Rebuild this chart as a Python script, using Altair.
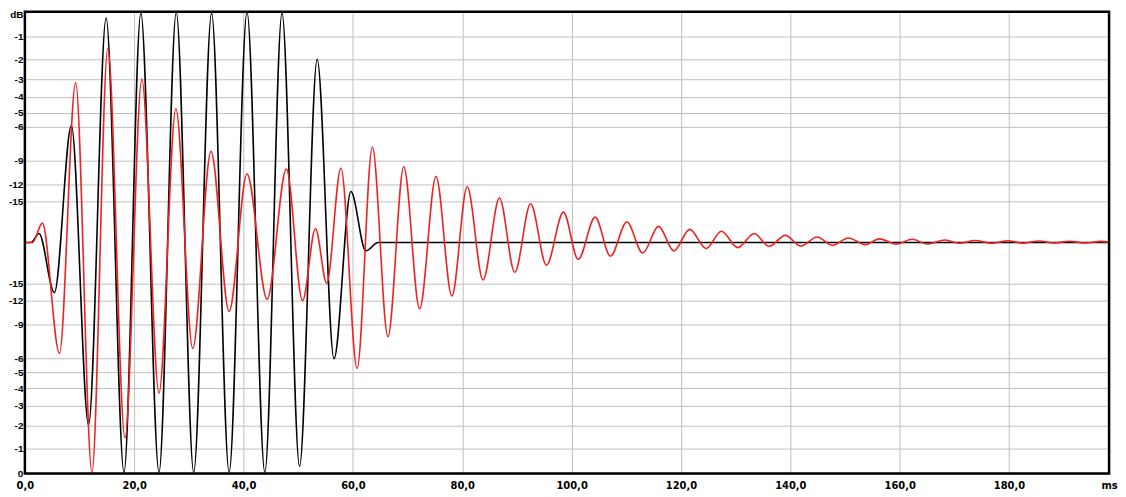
import altair as alt
import pandas as pd

# ---- data (time in ms, linear amplitude, full scale = 1) ----
black_t = [0, 1.1, 2.58, 5.4, 8.51, 11.65, 14.86, 18.13, 21.21, 24.53, 27.69, 30.88,
           34.15, 37.36, 40.63, 43.89, 47.03, 50.24, 53.46, 56.54, 59.63, 62.35, 64.6, 198.3]
black_a = [0, 0, 0.039, -0.217, 0.507, -0.790, 0.973, -0.995, 0.994, -0.995, 0.998, -0.995,
           0.994, -0.995, 0.998, -0.995, 0.994, -0.969, 0.794, -0.503, 0.221, -0.036, 0, 0]

red_t = [0, 1.4, 3.19, 6.33, 9.29, 12.27, 15.17, 18.31, 21.39, 24.53, 27.62, 30.70,
         34.04, 37.36, 40.63, 44.31, 47.83, 50.79, 53.15, 55.20, 57.81, 60.77, 63.55,
         66.4, 69.3, 72.2, 75.2, 78.1, 80.9, 83.8, 86.8, 89.6, 92.5, 95.4, 98.5, 101.2,
         104.3, 107.1, 110.1, 113.0, 115.9, 118.7, 121.6, 124.6, 127.4, 130.4, 133.4,
         136.1, 139.1, 141.9, 144.9, 147.7, 150.6, 153.7, 156.3, 159.4, 162.3, 165.0,
         168.3, 171.0, 173.8, 176.8, 179.8, 182.5, 185.5, 188.2, 191.0, 194.0, 196.7, 198.3]
red_a = [0, 0, 0.084, -0.480, 0.693, -0.995, 0.841, -0.846, 0.708, -0.652, 0.580, -0.459,
         0.395, -0.298, 0.297, -0.245, 0.318, -0.252, 0.060, -0.176, 0.322, -0.545, 0.414,
         -0.408, 0.328, -0.287, 0.286, -0.231, 0.242, -0.162, 0.193, -0.129, 0.168, -0.098,
         0.132, -0.073, 0.110, -0.059, 0.089, -0.045, 0.070, -0.036, 0.057, -0.026, 0.049,
         -0.022, 0.039, -0.016, 0.031, -0.015, 0.024, -0.012, 0.020, -0.009, 0.016, -0.007,
         0.014, -0.006, 0.011, -0.003, 0.009, -0.003, 0.008, -0.003, 0.007, -0.002, 0.006,
         -0.002, 0.005, 0.002]

db_ticks = [-1, -2, -3, -4, -5, -6, -9, -12, -15]
x_ticks = [0, 20, 40, 60, 80, 100, 120, 140, 160, 180]
X_MAX = 198.3

# axis tick positions (dB labels on a linear amplitude axis)
amp = [10 ** (d / 20) for d in db_ticks]
y_vals = [1.0] + amp + [-v for v in amp] + [-1.0]
x_vals = x_ticks + [X_MAX]

W, H = 1092, 465
X_FONT = "DejaVu Sans"
Y_FONT = "Liberation Sans"

df_black = pd.DataFrame({"t": black_t, "a": black_a})
df_red = pd.DataFrame({"t": red_t, "a": red_a})

x_enc = alt.X(
    "t:Q",
    scale=alt.Scale(domain=[0, X_MAX], nice=False, zero=False),
    axis=alt.Axis(
        values=x_vals,
        labelExpr="datum.value > 190 ? 'ms' : replace(format(datum.value, '.1f'), '.', ',')",
        title=None, ticks=False, domain=False, grid=True,
        gridColor="#c0c0c0", gridWidth=1,
        labelFont=X_FONT, labelFontSize=10, labelFontWeight="bold", labelColor="#000000",
        labelPadding=7, labelOverlap=False, labelFlush=False,
    ),
)
y_enc = alt.Y(
    "a:Q",
    scale=alt.Scale(domain=[-1, 1], nice=False, zero=False),
    axis=alt.Axis(
        values=y_vals,
        labelExpr="datum.value == 1 ? 'dB' : (datum.value == -1 ? '0' : '' + round(20 * log(abs(datum.value)) / LN10))",
        title=None, ticks=False, domain=False, grid=True,
        gridColor="#c0c0c0", gridWidth=1,
        labelFont=Y_FONT, labelFontSize=10, labelFontWeight="bold", labelColor="#000000",
        labelPadding=2, labelOverlap=False, labelFlush=False,
        labelOffset={"condition": {"test": "datum.value == 1", "value": 3}, "value": 0},
    ),
)

black_line = alt.Chart(df_black).mark_line(
    color="#000000", strokeWidth=1.6, interpolate="monotone"
).encode(x=x_enc, y=y_enc)

red_line = alt.Chart(df_red).mark_line(
    color="#ee2222", strokeWidth=1.6, interpolate="monotone"
).encode(x=x_enc, y=y_enc)

frame = alt.Chart(alt.Data(values=[{}])).mark_rect(
    filled=False, stroke="#000000", strokeWidth=2.5
).encode(x=alt.value(0), x2=alt.value(W), y=alt.value(0), y2=alt.value(H))

chart = alt.layer(black_line, red_line, frame).properties(
    width=W, height=H,
    autosize=alt.AutoSizeParams(type="none"),
    padding={"left": 17, "top": 2, "right": 9, "bottom": 18},
).configure_view(stroke=None).configure_axis(
    labelOverlap=False
).configure(background="#ffffff")

chart.save("out.html", embed_options={"renderer": "svg", "actions": False})
